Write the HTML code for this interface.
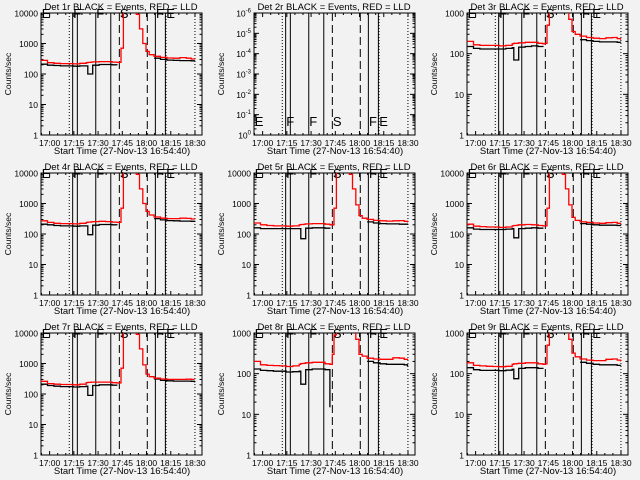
<!DOCTYPE html>
<html><head><meta charset="utf-8">
<style>
html,body{margin:0;padding:0;background:#f2f2f2;}
svg{display:block;}
text{font-family:"Liberation Sans",sans-serif;fill:#000;}
</style></head>
<body>
<svg id="chart" width="640" height="480" viewBox="0 0 640 480" xmlns="http://www.w3.org/2000/svg">
<rect x="0" y="0" width="640" height="480" fill="#f2f2f2"/>
</svg>
<script>
// time in minutes since 16:54:40
const times = [0,4,8,12,16,20,24,28,29,31,32,36,40,44,47,48.5,49.5,51,57,59,61,63,65,67,70,74,78,82,86,90,93,95];
const detNames = ["1r","2r","3r","4r","5r","6r","7r","8r","9r"];
const yTopDecade = [4,null,3,4,4,4,4,3,3];
const red1 = [280,235,225,220,220,215,225,235,240,245,250,255,255,245,240,240,700,12000,15000,9000,3000,1000,550,430,380,350,335,330,345,330,310,300];
const blk1 = [210,195,190,185,185,180,185,185,100,100,195,205,205,200,195,null,null,null,null,null,null,null,null,null,330,300,285,280,275,275,270,260];
const red3 = [200,165,160,160,160,155,160,175,180,180,185,190,190,180,175,180,500,2000,5000,3000,1500,700,350,300,270,250,240,235,245,250,235,220];
const blk3 = [150,135,130,130,130,130,135,140,70,70,145,150,155,150,145,null,null,null,null,null,null,null,null,null,220,210,200,195,195,195,190,185];
const red4 = [270,240,225,220,220,215,225,240,245,250,255,260,255,245,240,240,700,12000,15000,9000,3000,1000,550,420,360,330,320,320,330,325,310,300];
const blk4 = [210,200,190,185,185,180,185,185,95,95,195,205,205,200,195,null,null,null,null,null,null,null,null,null,320,290,275,270,265,265,260,250];
const red5 = [230,200,190,185,185,180,185,200,205,210,215,220,220,210,200,200,700,12000,15000,9000,3000,900,400,330,300,280,270,265,270,275,260,240];
const blk5 = [160,150,150,150,150,150,150,150,70,70,155,160,160,155,150,null,null,null,null,null,null,null,null,null,250,230,220,215,215,210,210,200];
const red6 = [210,180,175,170,170,165,170,185,190,195,200,205,200,190,185,185,700,12000,15000,9000,3000,900,350,280,250,240,230,225,235,240,225,210];
const blk6 = [160,145,140,140,140,140,145,150,75,75,150,155,160,155,150,null,null,null,null,null,null,null,null,null,220,210,200,195,195,195,190,185];
const red7 = [260,220,210,205,205,200,210,235,240,245,245,245,245,235,230,230,700,12000,15000,9000,3000,900,450,370,330,310,300,300,300,305,300,300];
const blk7 = [210,190,180,175,175,170,175,180,90,90,190,200,200,195,190,null,null,null,null,null,null,null,null,null,310,280,270,265,265,265,260,240];
const red8 = [200,165,160,158,155,150,155,170,178,180,185,190,190,175,170,300,900,2000,5000,3000,1500,700,300,270,240,230,225,225,245,240,225,215];
const blk8 = [130,120,118,115,115,110,112,115,55,55,125,130,130,125,15,null,null,null,null,null,null,null,null,null,200,185,175,170,170,170,165,150];
const red9 = [185,160,155,152,150,148,152,170,175,178,180,185,185,175,170,175,500,2000,5000,3000,1500,700,320,260,230,215,210,210,225,230,215,200];
const blk9 = [140,125,120,120,120,118,122,128,75,75,135,140,140,135,130,null,null,null,null,null,null,null,null,null,190,180,170,165,165,165,160,155];
const redSeries = [red1,null,red3,red4,red5,red6,red7,red8,red9];
const blkSeries = [blk1,null,blk3,blk4,blk5,blk6,blk7,blk8,blk9];
const markerTimes = [17.5,19.6,22.5,33.9,43.2,48.5,65.8,70.8,77,77.4,95.3];
const markerStyles = ["dot","solid","solid","solid","solid","dash","dash","solid","solid","dot","dot"];
const eventLetters = ["E","F","F","S","F","E"];
const eventLetterTimes = [0.5,20,34.2,48.8,71.2,77.5];
const xTickLabels = ["17:00","17:15","17:30","17:45","18:00","18:15","18:30"];
const xTickTimes = [5.333,20.333,35.333,50.333,65.333,80.333,95.333];

const NS = "http://www.w3.org/2000/svg";
const svg = document.getElementById("chart");
const L = 41, R = 202, T = 13, B = 135, TSPAN = 99.67;
function mk(tag, attrs, parent){const e=document.createElementNS(NS,tag);for(const k in attrs)e.setAttribute(k,attrs[k]);parent.appendChild(e);return e;}

for (let p = 0; p < 9; p++) {
  const ox = (p % 3) * 213, oy = Math.floor(p / 3) * 160;
  const g = mk("g", {transform: `translate(${ox},${oy})`}, svg);
  
  
  const xS = t => L + t * (R - L) / TSPAN;
  const top = yTopDecade[p];
  const yS = v => B - Math.log10(v) / (top || 6) * (B - T);

  const cid = "clip" + p;
  const cp = mk("clipPath", {id: cid}, g);
  mk("rect", {x: L, y: T, width: R - L, height: B - T}, cp);

  const tt = mk("text", {x: 121, y: 10, "font-size": 9.5, "text-anchor": "middle"}, g);
  tt.textContent = "Det " + detNames[p] + " BLACK = Events, RED = LLD";
  
  

  const yt = mk("text", {x: 0, y: 0, "font-size": 8.5, "text-anchor": "middle", transform: `translate(11,74) rotate(-90)`}, g);
  yt.textContent = "Counts/sec";
  
  

  const xt = mk("text", {x: 122, y: 154, "font-size": 9.5, "text-anchor": "middle"}, g);
  xt.textContent = "Start Time (27-Nov-13 16:54:40)";
  
  

  const box = mk("rect", {x: L, y: T, width: R - L, height: B - T, fill: "none", stroke: "#000", "stroke-width": 1}, g);
  
  

  for (let m = 0.333; m <= TSPAN; m += 5) {
    const x = xS(m);
    const major = Math.abs(((m - 5.333) / 15) - Math.round((m - 5.333) / 15)) < 0.01;
    const len = major ? 4 : 2;
    mk("line", {x1: x, x2: x, y1: B, y2: B - len, stroke: "#000"}, g);
    mk("line", {x1: x, x2: x, y1: T, y2: T + len, stroke: "#000"}, g);
  }
  xTickLabels.forEach((lab, i) => {
    const t = mk("text", {x: xS(xTickTimes[i]), y: 146, "font-size": 8.5, "text-anchor": "middle"}, g);
    t.textContent = lab;
    
    
  });

  const nDec = top || 6;
  for (let d = 0; d <= nDec; d++) {
    const y = B - d / nDec * (B - T);
    mk("line", {x1: L, x2: L + 5, y1: y, y2: y, stroke: "#000"}, g);
    mk("line", {x1: R, x2: R - 5, y1: y, y2: y, stroke: "#000"}, g);
    if (d < nDec) for (let k = 2; k <= 9; k++) {
      const yy = y - Math.log10(k) / nDec * (B - T);
      mk("line", {x1: L, x2: L + 2.5, y1: yy, y2: yy, stroke: "#000"}, g);
      mk("line", {x1: R, x2: R - 2.5, y1: yy, y2: yy, stroke: "#000"}, g);
    }
    const lab = mk("text", {x: 38, y: y + 3.5, "font-size": 8.5, "text-anchor": "end"}, g);
    if (top) lab.textContent = String(Math.pow(10, d));
    else {
      lab.textContent = "10";
      const sp = mk("tspan", {dy: -4, "font-size": 6}, lab);
      sp.textContent = d === 0 ? "0" : "-" + d;
    }
    
    
  }

  markerTimes.forEach((mt, i) => {
    const x = xS(mt);
    const st = markerStyles[i];
    const ln = mk("line", {x1: x, x2: x, y1: T, y2: B, stroke: "#000", "stroke-width": 1}, g);
    if (st === "dot") ln.setAttribute("stroke-dasharray", "1,2");
    if (st === "dash") ln.setAttribute("stroke-dasharray", "8,4");
    
    
  });

  eventLetters.forEach((ch, i) => {
    const t = mk("text", {x: xS(eventLetterTimes[i]), y: top ? 18 : 126, "font-size": 13}, g);
    t.textContent = ch;
    
    
  });

  [[blkSeries[p], "#000", "black-events-line"], [redSeries[p], "#ff0000", "red-lld-line"]].forEach(([vals, col, nm]) => {
    if (!vals) return;
    let d = "", pen = false;
    for (let i = 0; i < times.length; i++) {
      if (vals[i] == null) { pen = false; continue; }
      const x = xS(times[i]), y = yS(vals[i]);
      if (!pen) { d += `M${x.toFixed(1)},${y.toFixed(1)}`; pen = true; }
      else {
        d += `L${x.toFixed(1)},${yS(vals[i-1]).toFixed(1)}L${x.toFixed(1)},${y.toFixed(1)}`;
      }
    }
    const path = mk("path", {d: d, fill: "none", stroke: col, "stroke-width": 1.3, "clip-path": `url(#${cid})`}, g);
    
    
  });
}
</script>
</body></html>
